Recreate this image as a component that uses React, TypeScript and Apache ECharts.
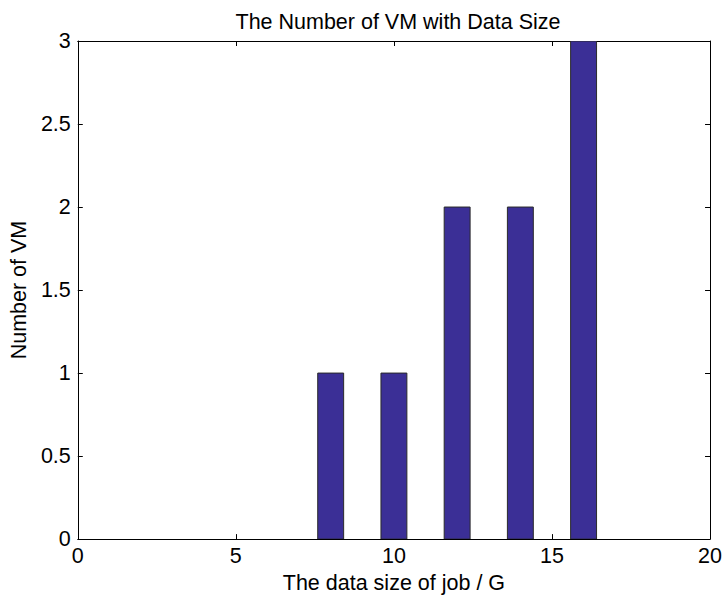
import React, { useEffect, useRef } from "react";
import * as echarts from "echarts";

const binCenters = [8, 10, 12, 14, 16];
const vmCounts = [1, 1, 2, 2, 3];
const xTicks = [0, 5, 10, 15, 20];
const yTicks = [0, 0.5, 1, 1.5, 2, 2.5, 3];

const FONT = "Liberation Sans, Arial, sans-serif";
const FS = 21.5;

export default function App() {
  const ref = useRef<HTMLDivElement>(null);
  useEffect(() => {
    if (!ref.current) return;
    const chart = echarts.init(ref.current, null, { renderer: "svg" });
    const tickStyle = { show: true, inside: true, length: 5, lineStyle: { color: "#000", width: 1 } };
    const lineStyle = { show: true, onZero: false, lineStyle: { color: "#000", width: 1 } };
    const data = binCenters.map((c, i) => [c, vmCounts[i]]);
    chart.setOption({
      animation: false,
      backgroundColor: "#fff",
      title: {
        text: "The Number of VM with Data Size",
        left: 393,
        textAlign: "center",
        top: 6,
        textStyle: { fontFamily: FONT, fontSize: FS, fontWeight: "normal", color: "#000" },
      },
      grid: { left: 75, right: 13, top: 41, bottom: 57, containLabel: false },
      xAxis: [
        {
          type: "value",
          min: xTicks[0],
          max: xTicks[xTicks.length - 1],
          interval: 5,
          position: "bottom",
          axisLine: lineStyle,
          axisTick: tickStyle,
          splitLine: { show: false },
          axisLabel: { fontFamily: FONT, fontSize: FS, color: "#000", margin: 6 },
          name: "The data size of job / G",
          nameLocation: "middle",
          nameGap: 32,
          nameTextStyle: { fontFamily: FONT, fontSize: FS, color: "#000" },
        },
        {
          type: "value",
          min: xTicks[0],
          max: xTicks[xTicks.length - 1],
          interval: 5,
          position: "top",
          axisLine: lineStyle,
          axisTick: tickStyle,
          splitLine: { show: false },
          axisLabel: { show: false },
        },
      ],
      yAxis: [
        {
          type: "value",
          min: yTicks[0],
          max: yTicks[yTicks.length - 1],
          interval: 0.5,
          position: "left",
          axisLine: lineStyle,
          axisTick: tickStyle,
          splitLine: { show: false },
          axisLabel: { fontFamily: FONT, fontSize: FS, color: "#000", margin: 7 },
          name: "Number of VM",
          nameLocation: "middle",
          nameGap: 47,
          nameTextStyle: { fontFamily: FONT, fontSize: FS, color: "#000" },
        },
        {
          type: "value",
          min: yTicks[0],
          max: yTicks[yTicks.length - 1],
          interval: 0.5,
          position: "right",
          axisLine: lineStyle,
          axisTick: tickStyle,
          splitLine: { show: false },
          axisLabel: { show: false },
        },
      ],
      series: [
        {
          type: "custom",
          xAxisIndex: 0,
          yAxisIndex: 0,
          data,
          clip: true,
          renderItem: (params: any, api: any) => {
            const x = api.value(0);
            const y = api.value(1);
            const halfW = 0.41;
            const p0 = api.coord([x - halfW, y]);
            const p1 = api.coord([x + halfW, 0]);
            return {
              type: "rect",
              shape: { x: p0[0], y: p0[1], width: p1[0] - p0[0], height: p1[1] - p0[1] },
              style: { fill: "#3b2f96", stroke: "#2a2a2a", lineWidth: 1 },
            };
          },
        },
      ],
    });
    return () => chart.dispose();
  }, []);
  return (
    <div
      ref={ref}
      style={{ position: "fixed", left: 0, top: 0, width: 725, height: 599, background: "#fff" }}
    />
  );
}
